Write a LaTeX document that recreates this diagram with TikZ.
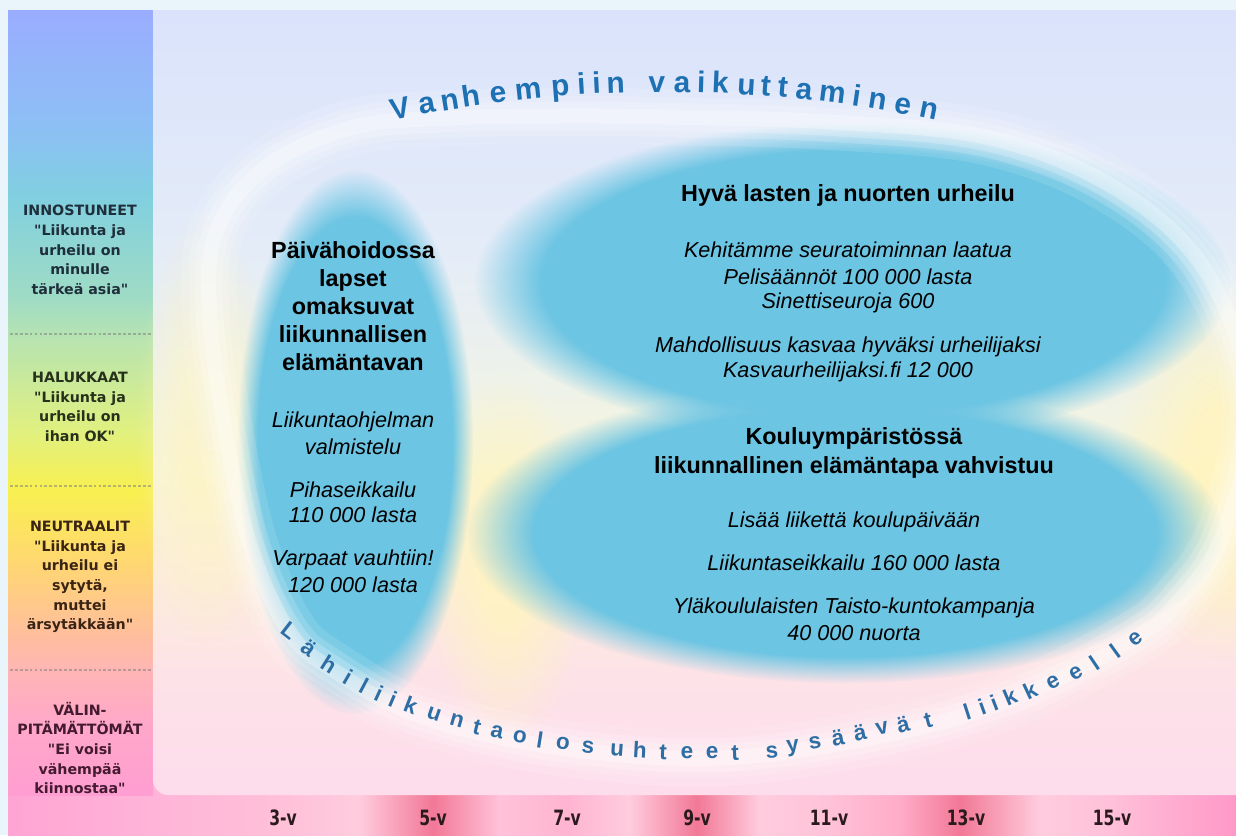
\documentclass[tikz,border=0pt]{standalone}
\usepackage{fontspec}
\setmainfont{Liberation Sans}
\newfontfamily\labfont{DejaVu Sans}
\newfontfamily\agefont{DejaVu Sans}[FakeStretch=0.74]
\usetikzlibrary{fadings}

\definecolor{outerbg}{HTML}{EAF4FB}
% left column
\definecolor{lcA}{HTML}{FF9ED2}
\definecolor{lcB}{HTML}{FFA8C8}
\definecolor{lcC}{HTML}{FFB6B4}
\definecolor{lcD}{HTML}{FFBCA0}
\definecolor{lcE}{HTML}{FFD870}
\definecolor{lcF}{HTML}{F8F050}
\definecolor{lcG}{HTML}{E0F080}
\definecolor{lcH}{HTML}{B8E4B0}
\definecolor{lcI}{HTML}{A0DCC4}
\definecolor{lcJ}{HTML}{80CFE0}
\definecolor{lcK}{HTML}{8CC0F4}
\definecolor{lcL}{HTML}{9AACFF}
% panel
\definecolor{pA}{HTML}{FDDCEC}
\definecolor{pB}{HTML}{FDE2E8}
\definecolor{pC}{HTML}{FCECDC}
\definecolor{pD}{HTML}{F8F4D8}
\definecolor{pE}{HTML}{EEF2EA}
\definecolor{pF}{HTML}{E4ECF8}
\definecolor{pG}{HTML}{DAE3FB}
% strip
\definecolor{sA}{HTML}{FFA4D4}
\definecolor{sB}{HTML}{FFB4D8}
\definecolor{sC}{HTML}{FFC0D8}
\definecolor{sD}{HTML}{FFCCDE}
\definecolor{sDark}{HTML}{F27896}
\definecolor{sE}{HTML}{FFC2D8}
\definecolor{sF}{HTML}{FFB4D0}
\definecolor{sG}{HTML}{FFACC8}
\definecolor{sH}{HTML}{FF98C8}
% others
\definecolor{blobblue}{HTML}{6CC5E3}
\definecolor{glowyellow}{HTML}{FFF4C0}
\definecolor{topblue}{HTML}{1D71B3}
\definecolor{botblue}{HTML}{2E6EA4}
\definecolor{agetext}{HTML}{2A1A1E}
\definecolor{labA}{HTML}{1E2E3A}
\definecolor{labB}{HTML}{26301A}
\definecolor{labC}{HTML}{3A2414}
\definecolor{labD}{HTML}{441A30}

\pgfdeclareverticalshading{leftshade}{100bp}{%
color(0bp)=(lcA); color(25bp)=(lcA); color(29.78bp)=(lcB); color(33.03bp)=(lcC);%
color(34.87bp)=(lcD); color(39.97bp)=(lcE); color(44.43bp)=(lcF); color(48.25bp)=(lcG);%
color(53.98bp)=(lcH); color(56.53bp)=(lcI); color(63.22bp)=(lcJ); color(67.36bp)=(lcK);%
color(75bp)=(lcL); color(100bp)=(lcL)}

\pgfdeclareverticalshading{panelshade}{100bp}{%
color(0bp)=(pA); color(25bp)=(pA); color(32.3bp)=(pB); color(38.7bp)=(pC);%
color(45.1bp)=(pD); color(51.4bp)=(pE); color(59.7bp)=(pF); color(75bp)=(pG); color(100bp)=(pG)}

\pgfdeclarehorizontalshading{stripshade}{100bp}{%
color(0bp)=(sA); color(25bp)=(sA); color(30.9bp)=(sB); color(36.2bp)=(sC); color(39.3bp)=(sD);%
color(42.3bp)=(sDark); color(45bp)=(sE); color(47.76bp)=(sF); color(50.3bp)=(sD);%
color(53.05bp)=(sDark); color(55.6bp)=(sD); color(58.4bp)=(sE); color(61.3bp)=(sG);%
color(63.76bp)=(sDark); color(67bp)=(sD); color(69.95bp)=(sC); color(75bp)=(sH); color(100bp)=(sH)}

\pgfdeclareradialshading{softblobshade}{\pgfpointorigin}{%
color(0bp)=(white); color(20.5bp)=(white); color(25bp)=(black); color(50bp)=(black)}
\pgfdeclarefading{softblob}{\pgfuseshading{softblobshade}}
\pgfdeclareradialshading{verysoftshade}{\pgfpointorigin}{%
color(0bp)=(white); color(8bp)=(white); color(25bp)=(black); color(50bp)=(black)}
\pgfdeclarefading{verysoft}{\pgfuseshading{verysoftshade}}

\tikzset{
  titl/.style={font=\bfseries\fontsize{13.3}{15.9}\selectfont, align=center, inner sep=0pt, text=black},
  ital/.style={font=\itshape\fontsize{12.3}{14.5}\selectfont, inner sep=0pt, text=black},
  lab/.style={font=\labfont\bfseries\fontsize{8.1}{11.2}\selectfont, align=center, inner sep=0pt},
  age/.style={font=\agefont\bfseries\fontsize{12}{13}\selectfont, text=agetext, inner sep=0pt},
  toptext/.style={font=\bfseries\fontsize{17}{18}\selectfont, text=topblue, inner sep=0pt},
  bottext/.style={font=\bfseries\fontsize{12.8}{13}\selectfont, text=botblue, inner sep=0pt},
  sepline/.style={gray, opacity=0.55, line width=1.2pt, dash pattern=on 1.6pt off 1.2pt},
  blob/.style={fill=blobblue, path fading=softblob},
}

\begin{document}
\begin{tikzpicture}[x=0.02cm, y=-0.02cm]
\useasboundingbox (0,0) rectangle (1236,835);
\fill[outerbg] (0,0) rectangle (1236,835);

% bottom strip and left column
\shade[shading=stripshade] (8,780) rectangle (1236,835);
\shade[shading=leftshade] (8,10) rectangle (153,795);

% main panel
\shade[shading=panelshade] (153,10) -- (1236,10) -- (1236,795) -- (168,795)
   .. controls (160,795) and (153,788) .. (153,780) -- cycle;

% soft glows
\fill[glowyellow, path fading=verysoft, opacity=0.9] (1225,470) ellipse [x radius=110, y radius=190];
\fill[glowyellow, path fading=verysoft, opacity=0.8] (505,560) ellipse [x radius=80, y radius=190];
\fill[glowyellow, path fading=verysoft, opacity=0.6] (205,430) ellipse [x radius=70, y radius=220];

% blue ellipses
\fill[blob] (853,282) ellipse [x radius=378, y radius=160];
\fill[blob] (845,533) ellipse [x radius=378, y radius=150];
\fill[blob] (355,442) ellipse [x radius=118, y radius=272];

% white ring (soft)
\foreach \w/\o in {56/0.12, 40/0.16, 28/0.2, 15/0.3} {
  \draw[white, line width=\w*0.02cm, opacity=\o]
    plot[smooth cycle, tension=0.6] coordinates {(350,128) (450,118) (560,116) (665,117) (830,122)
      (990,138) (1115,188) (1205,270) (1250,400) (1225,530) (1180,600) (1132,640) (1010,700)
      (880,736) (720,758) (560,748) (420,716) (330,668) (288,630) (250,545) (225,430)
      (210,320) (215,235) (262,170)};
}

% separators in left column
\draw[sepline] (10,334) -- (152,334);
\draw[sepline] (10,486) -- (152,486);
\draw[sepline] (10,670) -- (152,670);

% left column labels
\node[lab, text=labA] (innos) at (80,250) {INNOSTUNEET\\"Liikunta ja\\urheilu on\\minulle\\tärkeä asia"};
\node[lab, text=labB] (haluk) at (80,407) {HALUKKAAT\\"Liikunta ja\\urheilu on\\ihan OK"};
\node[lab, text=labC] (neutr) at (80,577) {NEUTRAALIT\\"Liikunta ja\\urheilu ei\\sytytä,\\muttei\\ärsytäkkään"};
\node[lab, text=labD] (valin) at (80,748) {VÄLIN-\\PITÄMÄTTÖMÄT\\"Ei voisi\\vähempää\\kiinnostaa"};

% age labels
\foreach \a/\xx [count=\i] in {3-v/283, 5-v/433, 7-v/567, 9-v/697, 11-v/829, 13-v/966, 15-v/1112} {
  \node[age] (age\i) at (\xx,818) {\a};
}

% left ellipse text
\node[titl] (paiva) at (353,306) {Päivähoidossa\\lapset\\omaksuvat\\liikunnallisen\\elämäntavan};
\node[ital] (l1) at (353,422) {Liikuntaohjelman};
\node[ital] (l2) at (353,447) {valmistelu};
\node[ital] (l3) at (353,490) {Pihaseikkailu};
\node[ital] (l4) at (353,515) {110 000 lasta};
\node[ital] (l5) at (353,560) {Varpaat vauhtiin!};
\node[ital] (l6) at (353,585) {120 000 lasta};

% upper right ellipse text
\node[titl] (hyva) at (848,195) {Hyvä lasten ja nuorten urheilu};
\node[ital] (u1) at (848,250) {Kehitämme seuratoiminnan laatua};
\node[ital] (u2) at (848,277) {Pelisäännöt 100 000 lasta};
\node[ital] (u3) at (848,303) {Sinettiseuroja 600};
\node[ital] (u4) at (848,347) {Mahdollisuus kasvaa hyväksi urheilijaksi};
\node[ital] (u5) at (848,372) {Kasvaurheilijaksi.fi 12 000};

% lower right ellipse text
\node[titl] (koulu1) at (854,438) {Kouluympäristössä};
\node[titl] (koulu2) at (854,467) {liikunnallinen elämäntapa vahvistuu};
\node[ital] (k1) at (854,522) {Lisää liikettä koulupäivään};
\node[ital] (k2) at (854,563) {Liikuntaseikkailu 160 000 lasta};
\node[ital] (k3) at (854,608) {Yläkoululaisten Taisto-kuntokampanja};
\node[ital] (k4) at (854,633) {40 000 nuorta};

% top arc text
\foreach \ch/\xx [count=\i] in {V/402, a/429, n/451, h/473, e/499, m/529, p/561, i/582, i/597, n/616,
   v/657, a/682, i/701, k/720, u/746, t/765, t/782, a/803, m/832, i/856, n/876, e/902, n/927} {
  \pgfmathsetmacro\ph{asin((\xx-665)/1320)}
  \pgfmathsetmacro\yy{1412-1320*cos(\ph)}
  \pgfmathsetmacro\rr{-\ph}
  \node[toptext, anchor=base, rotate=\rr] (top\i) at (\xx,\yy) {\ch};
}

% bottom arc text
\foreach \ch/\xx/\yy/\rr [count=\i] in {L/290/631/-38, ä/309/648/-36, h/329/664/-32, i/348/677/-30,
   l/364/686/-28, i/379/693/-25, i/393/699/-23, k/411/705/-21, u/434/714/-19,
   n/457/721/-16, t/477/727/-14, a/497/732/-12, o/520/737/-10, l/540/740/-9, o/563/743/-7,
   s/588/747/-6, u/617/750/-4, h/640/750/-3, t/663/752/-2, e/687/753/-1, e/712/753/0,
   t/735/753/2, s/772/752/4, y/793/748/6, s/815/743/8, ä/838/738/10, ä/860/733/12,
   v/882/728/13, ä/903/725/14, t/928/721/15, l/967/712/18, i/982/707/20, i/994/703/21,
   k/1010/697/23, k/1030/690/25, e/1053/682/28, e/1076/673/31, l/1095/663/34, l/1115/651/36,
   e/1136/639/38} {
  \node[bottext, rotate=\rr] (bot\i) at (\xx,\yy) {\ch};
}
\end{tikzpicture}
\end{document}
